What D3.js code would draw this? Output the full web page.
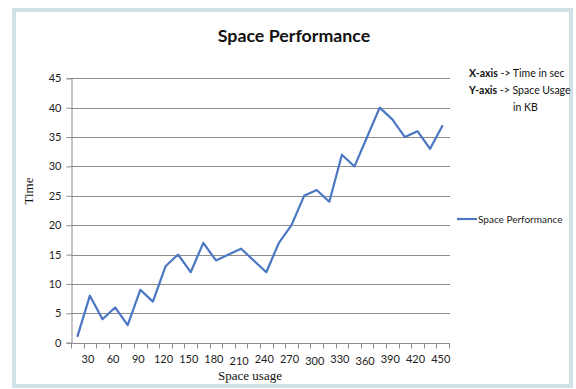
<!DOCTYPE html>
<html><head><meta charset="utf-8">
<script src="https://cdn.jsdelivr.net/npm/d3@7"></script>
<style>
html,body{margin:0;padding:0;background:#fff;}
svg{display:block;}
</style></head>
<body>
<svg id="chart" width="576" height="389"></svg>
<script>
const categories = [15,30,45,60,75,90,105,120,135,150,165,180,195,210,225,240,255,270,285,300,315,330,345,360,375,390,405,420,435,450];
const values = [1,8,4,6,3,9,7,13,15,12,17,14,15,16,14,12,17,20,25,26,24,32,30,35,40,38,35,36,33,37];
const xTickLabels = [30,60,90,120,150,180,210,240,270,300,330,360,390,420,450];
const yTicks = [0,5,10,15,20,25,30,35,40,45];
const seriesName = "Space Performance";
const titleText = "Space Performance";
const xTitle = "Space usage";
const yTitle = "Time";

const svg = d3.select("#chart");
const calib = "Lato, 'Open Sans', sans-serif";
const serif = "'Liberation Serif', 'DejaVu Serif', serif";

// frame
svg.append("rect").attr("x",13.5).attr("y",9.5).attr("width",558).attr("height",377)
  .attr("fill","#fff").attr("stroke","#cfe2e8").attr("stroke-width",3);
svg.append("rect").attr("x",15.5).attr("y",11.5).attr("width",554).attr("height",373)
  .attr("fill","none").attr("stroke","#b8c6ca").attr("stroke-width",0.6);

const pL = 71, pR = 449, pT = 78.3, pB = 342.7;
const x = d3.scaleBand().domain(categories).range([pL, pR]).padding(0);
const y = d3.scaleLinear().domain([0,45]).range([pB, pT]);

// gridlines
svg.append("g").selectAll("line").data(yTicks.filter(d=>d>0)).join("line")
  .attr("x1",pL).attr("x2",pR+1).attr("y1",d=>Math.round(y(d))+0.5).attr("y2",d=>Math.round(y(d))+0.5)
  .attr("stroke","#8c8c8c").attr("stroke-width",1);

// y axis
const yAxis = svg.append("g").attr("transform",`translate(${pL+0.5},0)`)
  .call(d3.axisLeft(y).tickValues(yTicks).tickSize(5).tickPadding(5));
yAxis.select(".domain").attr("stroke","#8c8c8c");
yAxis.selectAll(".tick line").attr("stroke","#8c8c8c");
yAxis.selectAll("text").attr("font-family",calib).attr("font-size",11).attr("fill","#222");

// x axis: ticks between categories
const xg = svg.append("g").attr("transform",`translate(0,${Math.round(pB)+0.5})`);
xg.append("line").attr("x1",pL).attr("x2",pR+1).attr("stroke","#8c8c8c");
const bounds = categories.map(c=>x(c)).concat([pR]);
xg.selectAll("line.tk").data(bounds).join("line").attr("class","tk")
  .attr("x1",d=>Math.round(d)+0.5).attr("x2",d=>Math.round(d)+0.5).attr("y1",0).attr("y2",5)
  .attr("stroke","#8c8c8c");
const labelDy = {210:2, 300:2, 360:2};
xg.selectAll("text").data(xTickLabels).join("text")
  .attr("x",d=>x(d)+x.bandwidth()/2 - 2)
  .attr("y",d=>19 + (labelDy[d]||0))
  .attr("text-anchor","middle")
  .attr("font-family",calib).attr("font-size",11).attr("fill","#222")
  .text(d=>d);

// line
const line = d3.line().x((d,i)=>x(categories[i])+x.bandwidth()/2).y(d=>y(d));
svg.append("path").datum(values).attr("d",line)
  .attr("fill","none").attr("stroke","#4a76c2").attr("stroke-width",2.2).attr("stroke-linejoin","round");

// title
svg.append("text").attr("x",294).attr("y",42).attr("text-anchor","middle")
  .attr("font-family",calib).attr("font-weight","bold").attr("font-size",17.8).attr("fill","#111")
  .text(titleText);

// axis titles
svg.append("text").attr("x",250).attr("y",380).attr("text-anchor","middle")
  .attr("font-family",serif).attr("font-size",13).attr("fill","#111").text(xTitle);
svg.append("text").attr("transform","translate(33,191) rotate(-90)").attr("text-anchor","middle")
  .attr("font-family",serif).attr("font-size",13).attr("fill","#111").text(yTitle);

// legend
svg.append("line").attr("x1",457).attr("x2",477).attr("y1",219).attr("y2",219)
  .attr("stroke","#4a76c2").attr("stroke-width",2.2);
svg.append("text").attr("x",478).attr("y",222.5).attr("font-family",calib).attr("font-size",10)
  .attr("fill","#222").text(seriesName);

// annotation
const ann = svg.append("g").attr("font-family",calib).attr("font-size",10.5).attr("fill","#111");
const t1 = ann.append("text").attr("x",469).attr("y",77);
t1.append("tspan").attr("font-weight","bold").text("X-axis");
t1.append("tspan").text(" -> Time in sec");
const t2 = ann.append("text").attr("x",469).attr("y",94);
t2.append("tspan").attr("font-weight","bold").text("Y-axis");
t2.append("tspan").text(" ->  Space Usage");
ann.append("text").attr("x",513).attr("y",111).text("in KB");
</script>
</body></html>
